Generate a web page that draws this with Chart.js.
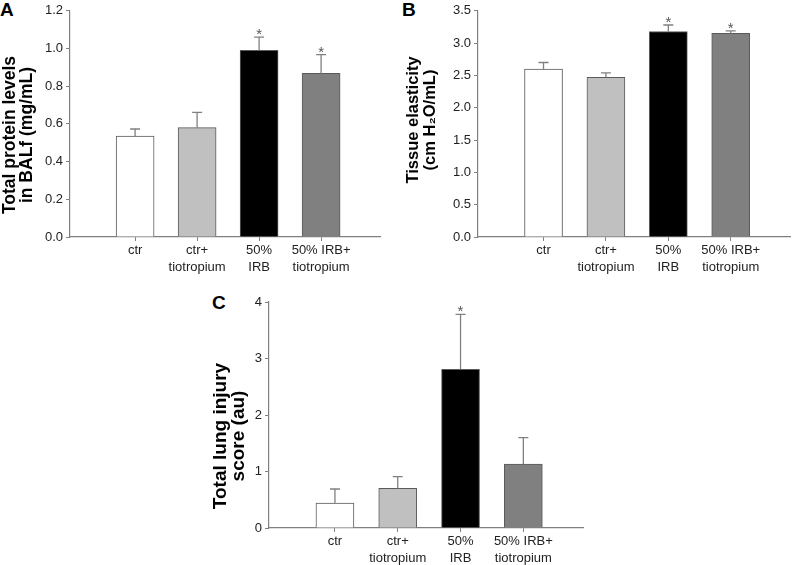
<!DOCTYPE html>
<html>
<head>
<meta charset="utf-8">
<script src="https://cdn.jsdelivr.net/npm/chart.js@4.4.1/dist/chart.umd.min.js"></script>
<style>
  body { margin: 0; background: #fff; width: 794px; height: 565px; position: relative; overflow: hidden; font-family: Arial, "Liberation Sans", sans-serif; }
  .panel { position: absolute; }
  .letter { position: absolute; font-weight: bold; font-size: 19px; line-height: 19px; color: #000; }
</style>
</head>
<body>
<div class="letter" style="left:0px;top:0px">A</div>
<div class="letter" style="left:402px;top:0px">B</div>
<div class="letter" style="left:212px;top:293px">C</div>
<div class="panel" style="left:0px;top:0px"><canvas id="chart-a" width="400" height="280"></canvas></div>
<div class="panel" style="left:400px;top:0px"><canvas id="chart-b" width="394" height="280"></canvas></div>
<div class="panel" style="left:199px;top:290px"><canvas id="chart-c" width="395" height="275"></canvas></div>
<script>
const categories = [['ctr'], ['ctr+', 'tiotropium'], ['50%', 'IRB'], ['50% IRB+', 'tiotropium']];
const barColors = ['#ffffff', '#c0c0c0', '#000000', '#808080'];

// A: total protein in BALf
const proteinMeans = [0.535, 0.58, 0.99, 0.868];
const proteinErrors = [0.038, 0.081, 0.07, 0.099];
const proteinSignificant = [false, false, true, true];
const proteinTicks = [0, 0.2, 0.4, 0.6, 0.8, 1.0, 1.2];

// B: tissue elasticity
const elasticityMeans = [2.60, 2.47, 3.18, 3.15];
const elasticityErrors = [0.10, 0.07, 0.10, 0.04];
const elasticitySignificant = [false, false, true, true];
const elasticityTicks = [0, 0.5, 1.0, 1.5, 2.0, 2.5, 3.0, 3.5];

// C: lung injury score
const injuryMeans = [0.44, 0.70, 2.81, 1.13];
const injuryErrors = [0.25, 0.21, 0.97, 0.47];
const injurySignificant = [false, false, true, false];
const injuryTicks = [0, 1, 2, 3, 4];

const axisColor = '#808080';
const textColor = '#222222';
const fontFamily = 'Arial, "Liberation Sans", sans-serif';

const errorBarPlugin = {
  id: 'errorBars',
  afterDatasetsDraw(chart, args, opts) {
    const { ctx } = chart;
    const y = chart.scales.y;
    const meta = chart.getDatasetMeta(0);
    ctx.save();
    ctx.strokeStyle = '#808080';
    ctx.lineWidth = 1.3;
    ctx.fillStyle = '#555555';
    ctx.font = `15px ${fontFamily}`;
    ctx.textAlign = 'center';
    ctx.textBaseline = 'alphabetic';
    meta.data.forEach((bar, i) => {
      const top = y.getPixelForValue(opts.means[i] + opts.errors[i]);
      ctx.beginPath();
      ctx.moveTo(bar.x, bar.y);
      ctx.lineTo(bar.x, top);
      ctx.moveTo(bar.x - 5, top);
      ctx.lineTo(bar.x + 5, top);
      ctx.stroke();
      if (opts.significant[i]) {
        ctx.fillText('*', bar.x, top + 2);
      }
    });
    ctx.restore();
  },
};

// vertical axis title, drawn by hand so size and placement can follow the figure
const axisTitlePlugin = {
  id: 'axisTitle',
  afterDraw(chart, args, opts) {
    const { ctx } = chart;
    ctx.save();
    ctx.fillStyle = '#000000';
    ctx.font = `bold ${opts.size}px ${fontFamily}`;
    ctx.textAlign = 'center';
    ctx.textBaseline = 'middle';
    opts.lines.forEach((line, i) => {
      ctx.save();
      ctx.translate(opts.xs[i], opts.y);
      ctx.rotate(-Math.PI / 2);
      ctx.fillText(line, 0, 0);
      ctx.restore();
    });
    ctx.restore();
  },
};

function buildPanel(canvasId, cfg) {
  const points = cfg.means.map((v, i) => ({ x: i + 1, y: v }));
  return new Chart(document.getElementById(canvasId), {
    type: 'bar',
    data: {
      datasets: [
        {
          data: points,
          backgroundColor: barColors,
          borderColor: '#5a5a5a',
          borderWidth: 1,
          barThickness: 38,
        },
      ],
    },
    options: {
      responsive: false,
      animation: false,
      layout: { padding: cfg.padding },
      plugins: {
        legend: { display: false },
        tooltip: { enabled: false },
        errorBars: { means: cfg.means, errors: cfg.errors, significant: cfg.significant },
        axisTitle: cfg.title,
      },
      scales: {
        x: {
          type: 'linear',
          offset: false,
          min: -0.05,
          max: 4.95,
          afterBuildTicks: (scale) => {
            scale.ticks = categories.map((_, i) => ({ value: i + 1 }));
          },
          afterFit: (scale) => {
            scale.height = cfg.xHeight;
          },
          ticks: {
            callback: (value) => categories[value - 1],
            color: textColor,
            font: { family: fontFamily, size: 13, lineHeight: 1.3 },
            padding: 1,
            maxRotation: 0,
            autoSkip: false,
          },
          grid: { display: true, offset: false, drawOnChartArea: false, drawTicks: true, tickLength: 4, color: axisColor },
          border: { display: true, color: axisColor, width: 1.2 },
        },
        y: {
          min: cfg.ticks[0],
          max: cfg.ticks[cfg.ticks.length - 1],
          afterBuildTicks: (scale) => {
            scale.ticks = cfg.ticks.map((v) => ({ value: v }));
          },
          afterFit: (scale) => {
            scale.width = cfg.yWidth;
          },
          ticks: {
            callback: (value) => value.toFixed(cfg.decimals),
            color: textColor,
            font: { family: fontFamily, size: 13 },
            padding: 3,
          },
          grid: { display: true, drawOnChartArea: false, drawTicks: true, tickLength: 4, color: axisColor },
          border: { display: true, color: axisColor, width: 1.2 },
        },
      },
    },
    plugins: [errorBarPlugin, axisTitlePlugin],
  });
}

buildPanel('chart-a', {
  means: proteinMeans,
  errors: proteinErrors,
  significant: proteinSignificant,
  ticks: proteinTicks,
  decimals: 1,
  title: { lines: ['Total protein levels', 'in BALf (mg/mL)'], size: 17.5, xs: [10, 27], y: 135 },
  padding: { top: 10, right: 20, left: 0, bottom: 0 },
  yWidth: 70,
  xHeight: 43,
});

buildPanel('chart-b', {
  means: elasticityMeans,
  errors: elasticityErrors,
  significant: elasticitySignificant,
  ticks: elasticityTicks,
  decimals: 1,
  title: { lines: ['Tissue elasticity', '(cm H\u2082O/mL)'], size: 16.5, xs: [13, 30], y: 120 },
  padding: { top: 10, right: 4, left: 0, bottom: 0 },
  yWidth: 78,
  xHeight: 43,
});

buildPanel('chart-c', {
  means: injuryMeans,
  errors: injuryErrors,
  significant: injurySignificant,
  ticks: injuryTicks,
  decimals: 0,
  title: { lines: ['Total lung injury', 'score (au)'], size: 19, xs: [22, 40], y: 146 },
  padding: { top: 12, right: 11, left: 0, bottom: 0 },
  yWidth: 70,
  xHeight: 37,
});
</script>
</body>
</html>
